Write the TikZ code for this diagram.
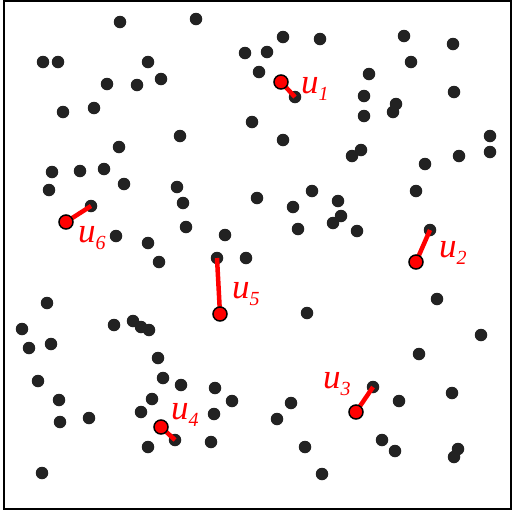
\documentclass[tikz,border=0pt]{standalone}
\usepackage{fontspec}
\setmainfont{Liberation Serif}
\pgfdeclarelayer{bg}
\pgfdeclarelayer{fg}
\pgfsetlayers{bg,main,fg}
\definecolor{dotc}{HTML}{222222}
\newcommand{\ulab}[1]{\itshape u\raisebox{-7pt}{\fontsize{20}{20}\selectfont\itshape #1}}
\begin{document}
\begin{tikzpicture}[x=1pt,y=-1pt,
  dot/.style={circle,fill=dotc,inner sep=0pt,minimum size=12.5pt},
  rdot/.style={circle,fill=red,draw=black,line width=1.5pt,inner sep=0pt,minimum size=14pt},
  link/.style={red,line width=4.5pt},
  lab/.style={text=red,font=\fontsize{35}{35}\selectfont,inner sep=0pt,anchor=base west}]
\useasboundingbox (0,0) rectangle (514,512);
\draw[line width=1.5pt] (4,1) rectangle (511,509);
\begin{pgfonlayer}{bg}
\foreach \x/\y [count=\i] in {120/22, 196/19, 245/53, 267/52, 283/37, 320/39, 404/36, 453/44, 43/62, 58/62, 148/62, 161/79, 107/84, 137/85, 259/72, 411/62, 369/74, 364/96, 454/92, 396/104, 393/112, 63/112, 94/108, 364/116, 252/122, 180/136, 283/140, 490/136, 490/152, 119/147, 361/150, 352/156, 459/156, 425/164, 52/172, 80/171, 104/169, 124/184, 49/190, 177/187, 183/203, 186/227, 257/198, 312/191, 293/207, 298/229, 338/201, 341/216, 333/223, 357/231, 416/191, 116/236, 148/243, 159/262, 246/258, 225/235, 47/303, 22/329, 114/325, 133/321, 141/327, 149/330, 29/348, 51/344, 307/313, 437/299, 481/335, 158/358, 163/378, 38/381, 59/400, 152/399, 141/412, 60/422, 89/418, 181/385, 215/388, 232/401, 214/414, 211/442, 148/447, 42/473, 291/403, 277/419, 305/447, 322/474, 419/354, 399/401, 452/393, 382/440, 395/451, 458/449, 454/457}
  \node[dot] (d\i) at (\x,\y) {};
\node[dot] (t1) at (295,97) {};
\node[dot] (t2) at (430,230) {};
\node[dot] (t3) at (373,387) {};
\node[dot] (t4) at (175,440) {};
\node[dot] (t5) at (217,258) {};
\node[dot] (t6) at (91,206) {};
\end{pgfonlayer}
\begin{pgfonlayer}{fg}
\node[rdot] (u1) at (281,82) {};
\node[rdot] (u2) at (416,262) {};
\node[rdot] (u3) at (356,412) {};
\node[rdot] (u4) at (161,427) {};
\node[rdot] (u5) at (220,314) {};
\node[rdot] (u6) at (66,222) {};
\end{pgfonlayer}
\foreach \k in {1,...,6} \draw[link] (u\k.center) -- (t\k.center);
\node[lab] (l1) at (301,93) {\ulab{1}};
\node[lab] (l2) at (439,257) {\ulab{2}};
\node[lab] (l3) at (323,388) {\ulab{3}};
\node[lab] (l4) at (171,419) {\ulab{4}};
\node[lab] (l5) at (232,298) {\ulab{5}};
\node[lab] (l6) at (78,242) {\ulab{6}};
\end{tikzpicture}
\end{document}
